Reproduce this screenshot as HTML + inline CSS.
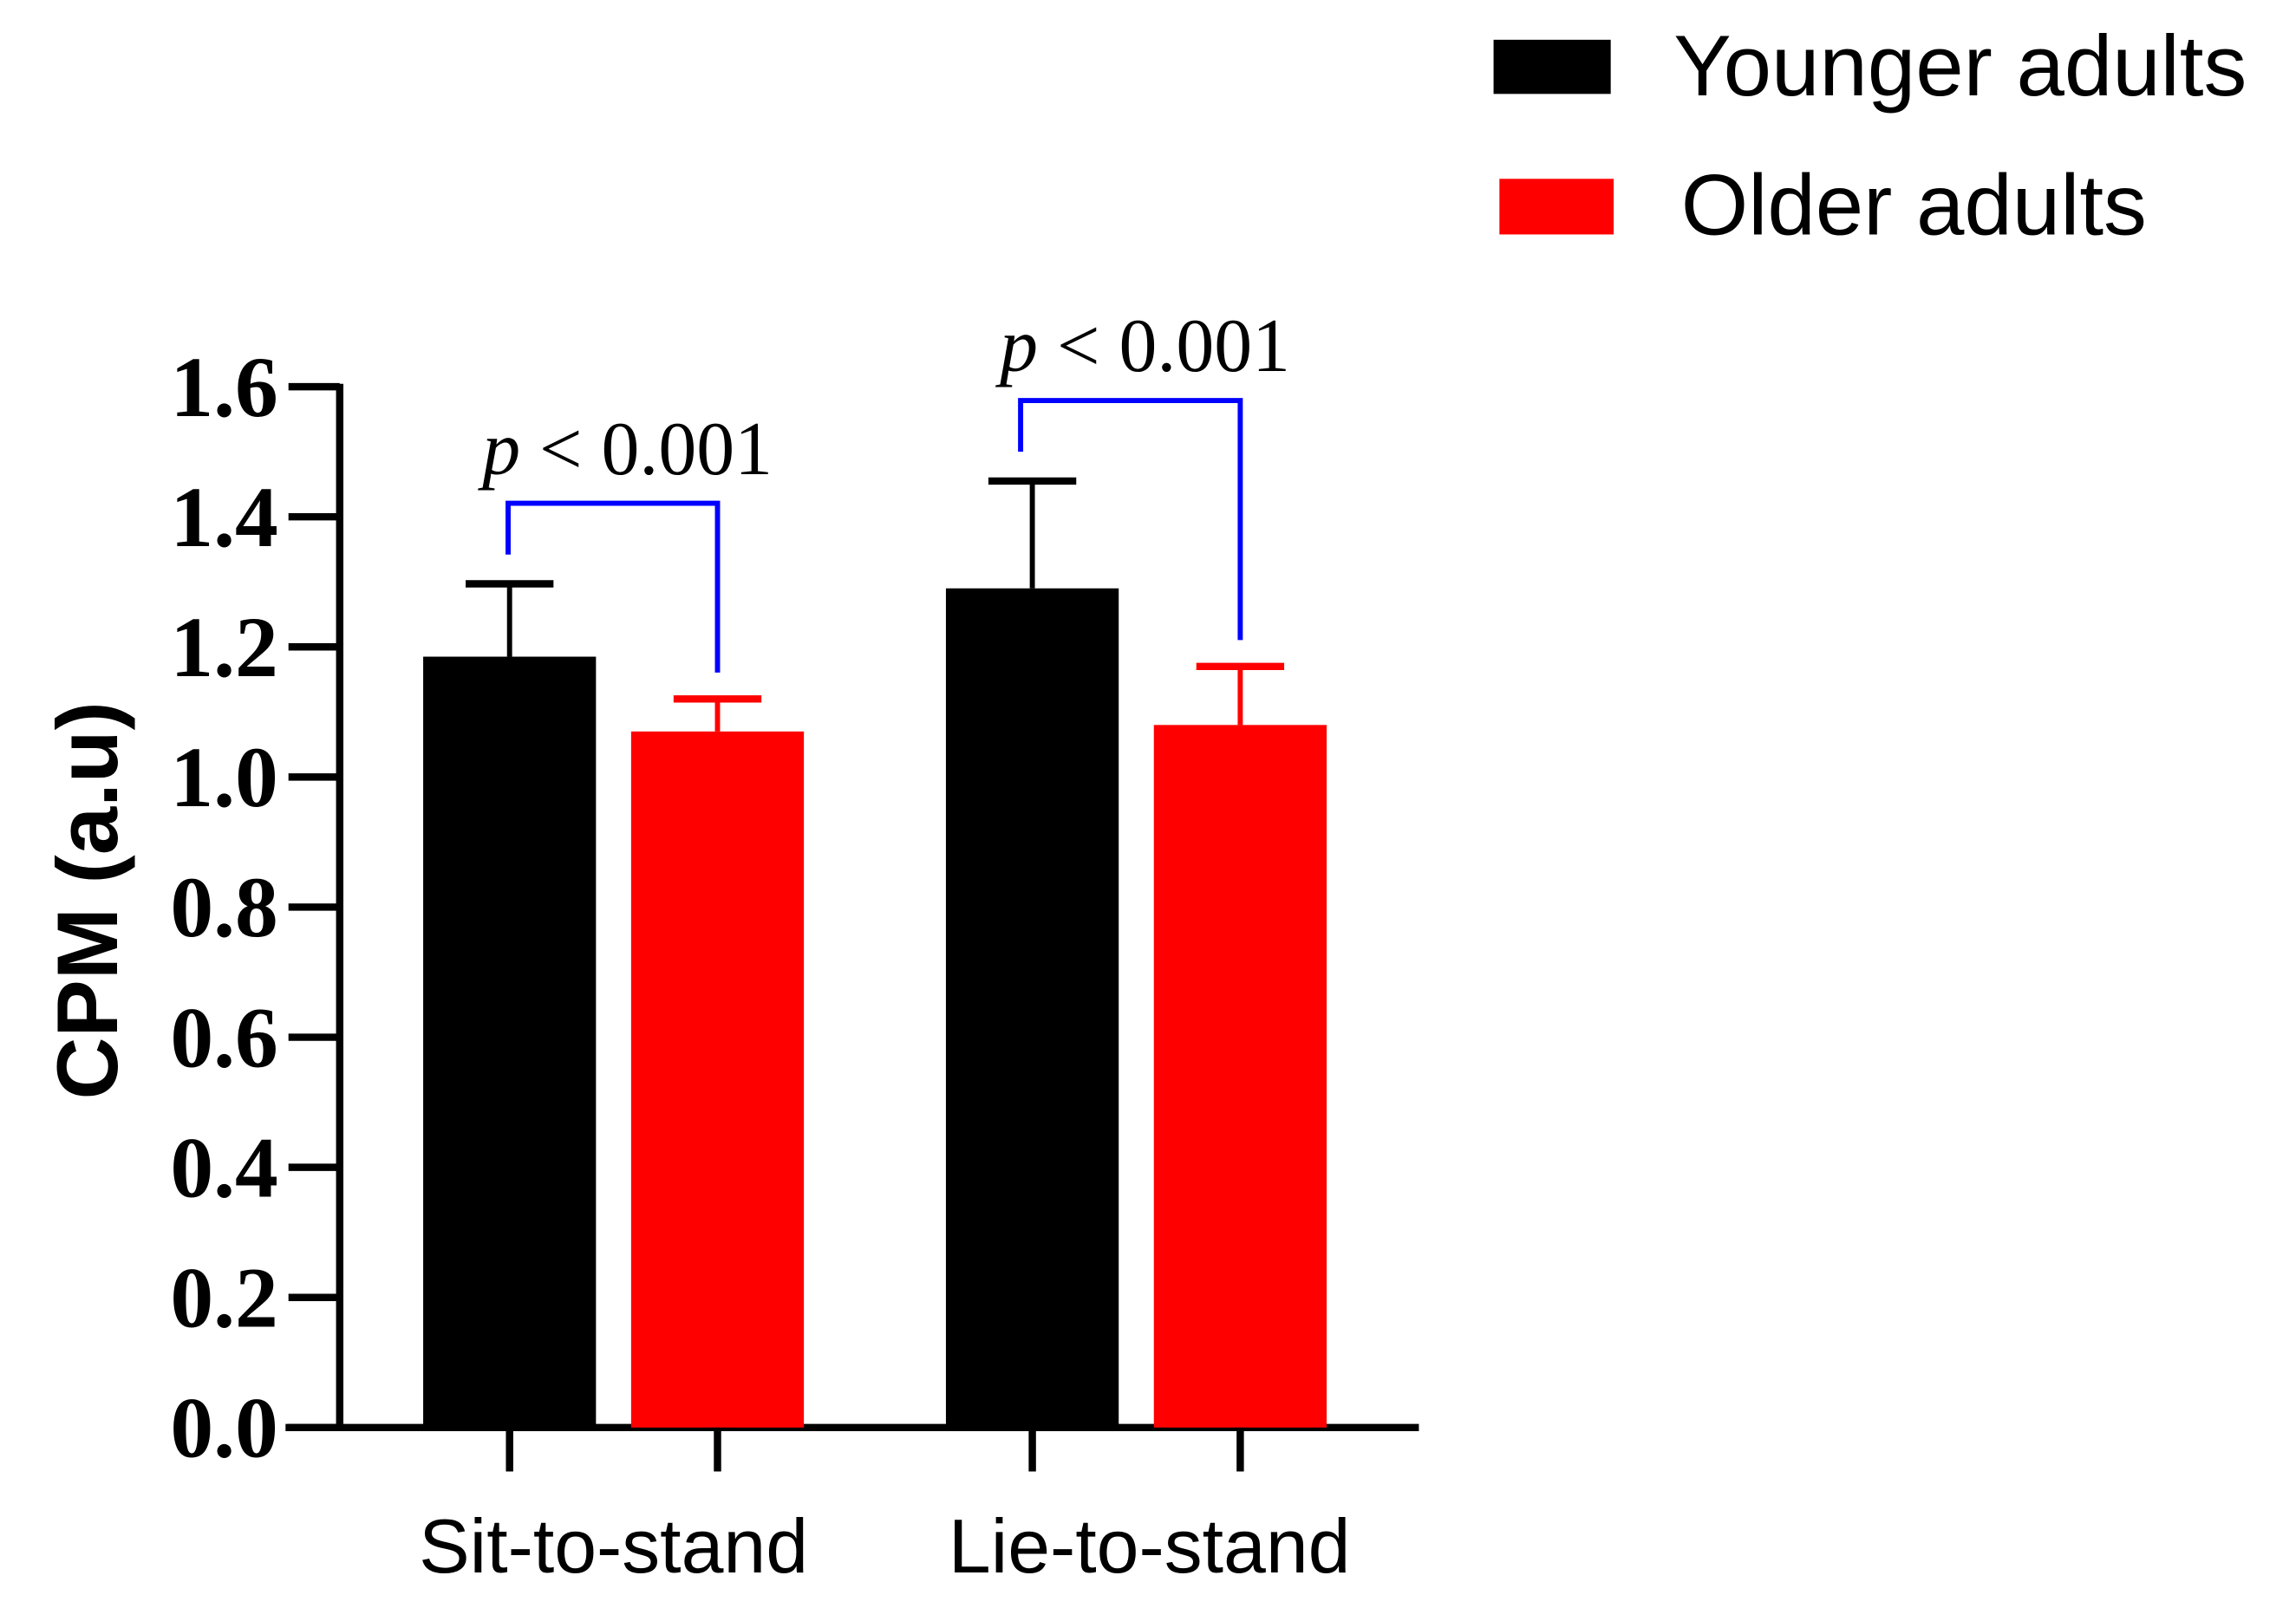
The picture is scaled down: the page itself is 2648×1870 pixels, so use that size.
<!DOCTYPE html>
<html><head><meta charset="utf-8"><style>html,body{margin:0;padding:0;background:#fff}svg{display:block}</style></head>
<body>
<svg id="chart" width="2648" height="1870" viewBox="0 0 1568 1107" xmlns="http://www.w3.org/2000/svg">
<g id="legend">
<rect x="1020" y="27" width="80" height="37" fill="#000"/>
<text x="1143" y="65" font-family="Liberation Sans, sans-serif" font-size="59">Younger adults</text>
<rect x="1024" y="122" width="78" height="38" fill="#ff0000"/>
<text x="1148" y="160" font-family="Liberation Sans, sans-serif" font-size="59">Older adults</text>
</g>
<text transform="translate(80,615) rotate(-90)" text-anchor="middle" font-family="Liberation Sans, sans-serif" font-weight="bold" font-size="59">CPM (a.u)</text>
<g id="plot"></g>
</svg>
<script>
const categories = ["Sit-to-stand", "Lie-to-stand"];
const youngerValues = [1.185, 1.29];
const youngerErrors = [0.112, 0.165];
const olderValues = [1.07, 1.08];
const olderErrors = [0.05, 0.09];
const pLabels = ["p < 0.001", "p < 0.001"];
const yTicks = [0, 0.2, 0.4, 0.6, 0.8, 1.0, 1.2, 1.4, 1.6];

const NS = "http://www.w3.org/2000/svg";
const g = document.getElementById("plot");
const y0 = 975, yTop = 264, yMax = 1.6;
function yScale(v){ return y0 - (v / yMax) * (y0 - yTop); }
const groupCenters = [419, 776];
function barX(i, s){ return groupCenters[i] + (s === 0 ? -71 : 71); }
const barW = 118;
function mk(tag, attrs){ const e = document.createElementNS(NS, tag); for (const k in attrs) e.setAttribute(k, attrs[k]); g.appendChild(e); return e; }

let e = mk("line", {x1:232, y1:262, x2:232, y2:977, stroke:"#000", "stroke-width":5});


e = mk("line", {x1:195, y1:975, x2:969, y2:975, stroke:"#000", "stroke-width":5});



yTicks.forEach(t => {
  const y = yScale(t);
  let tk = mk("line", {x1:197, y1:y, x2:232, y2:y, stroke:"#000", "stroke-width":5});
  
  
  let lb = mk("text", {x:190, y:y+20, "text-anchor":"end", "font-family":"Liberation Serif, serif", "font-weight":"bold", "font-size":59});
  lb.textContent = t.toFixed(1);
  
  
});

categories.forEach((c, i) => {
  const series = [[youngerValues, youngerErrors, "#000"], [olderValues, olderErrors, "#ff0000"]];
  series.forEach((sr, s) => {
    const cx = barX(i, s), v = sr[0][i], er = sr[1][i], col = sr[2];
    let b = mk("rect", {x:cx-barW/2, y:yScale(v), width:barW, height:y0-yScale(v), fill:col});
    
    
    let el = mk("line", {x1:cx, y1:yScale(v), x2:cx, y2:yScale(v+er), stroke:col, "stroke-width":3.5});
    
    
    let cp = mk("line", {x1:cx-30, y1:yScale(v+er), x2:cx+30, y2:yScale(v+er), stroke:col, "stroke-width":5});
    
    
    let xt = mk("line", {x1:cx, y1:975, x2:cx, y2:1005, stroke:"#000", "stroke-width":5});
    
    
  });
  let cl = mk("text", {x:groupCenters[i]+(i===0?0:9), y:1074, "text-anchor":"middle", "font-family":"Liberation Sans, sans-serif", "font-size":52});
  cl.textContent = c;
  
  

  const xl = barX(i,0) - (i===0?1:8), xr = barX(i,1);
  const yL = yScale(youngerValues[i]+youngerErrors[i]) - 20;
  const yR = yScale(olderValues[i]+olderErrors[i]) - 18;
  const yB = Math.min(yL, yR) - 35;
  let br = mk("polyline", {points:`${xl},${yL} ${xl},${yB} ${xr},${yB} ${xr},${yR}`, fill:"none", stroke:"#0000ff", "stroke-width":3.5});
  
  
  let pt = mk("text", {x:(xl+xr)/2+10, y:yB-20, "text-anchor":"middle", "font-family":"Liberation Serif, serif", "font-size":52});
  const parts = pLabels[i].split(" ");
  const ts = document.createElementNS(NS, "tspan"); ts.setAttribute("font-style","italic"); ts.textContent = parts[0];
  pt.appendChild(ts);
  pt.appendChild(document.createTextNode(" " + parts.slice(1).join(" ")));
  
  
});
</script>
</body></html>
